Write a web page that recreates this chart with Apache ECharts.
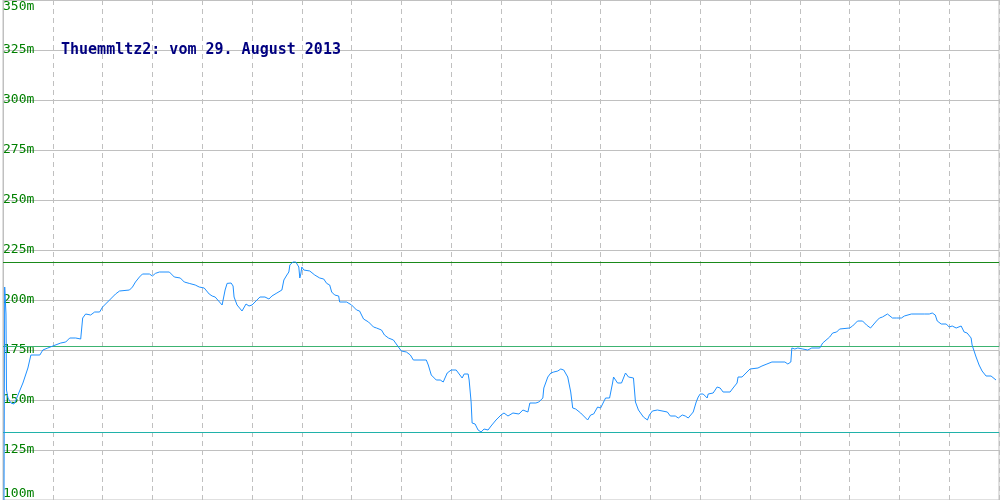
<!DOCTYPE html>
<html>
<head>
<meta charset="utf-8">
<style>
html,body{margin:0;padding:0;background:#fff;}
#chart{width:1000px;height:500px;}
</style>
<script src="https://cdn.jsdelivr.net/npm/echarts@6/dist/echarts.min.js"></script>
</head>
<body>
<div id="chart"></div>
<script>
const titleText = 'Thuemmltz2: vom 29. August 2013';
// distance along the track (arbitrary units, 0..1000)
const dist = [1,1.7,3,3.5,5,8,11,13,15,20,25,28,37,40,45,50,58,63,67,73,78,80,83,88,92,97,100,113,117,127,130,133,137,140,147,150,153,157,167,172,178,182,187,193,197,202,207,210,213,220,222,223,225,229,231,232,235,240,241,244,247,250,258,263,267,270,275,280,282,285,287,288,291,294,297,298,299,300,302,308,313,318,322,325,328,330,333,337,338,345,347,350,355,358,362,367,372,375,380,383,387,392,397,400,405,407,409,412,425,427,430,435,437,439,442,446,450,452,455,458,461,463,465,467,468,470,471,474,477,480,483,487,490,495,500,503,505,507,509,512,518,522,527,529,535,538,542,543,547,550,553,557,560,563,565,567,570,572,575,580,587,590,593,597,600,602,605,609,612,613,615,617,621,623,625,627,628,630,633,635,638,643,647,649,652,654,657,667,670,675,678,682,685,688,693,696,698,700,703,707,708,713,717,720,723,730,733,737,738,742,743,747,750,758,762,767,772,785,788,791,792,795,798,803,805,808,812,820,823,830,833,837,840,850,853,858,863,867,871,873,877,880,883,885,888,893,897,899,902,905,912,925,927,930,933,936,938,942,947,950,953,957,959,962,965,968,972,973,977,980,983,987,992,997];
// elevation in metres
const elev = [100,206.5,193,155,151,148.5,148,150,152.5,158.5,166,172.5,172.5,175,176,177,178.5,179,181,181,180.5,191,193,192.5,194,194,196.5,203,204.5,205,206.5,209,211.5,213,213,212,213.3,214,214,211.5,211,209,208.3,207.5,206.5,206,203,202,201.5,197.5,196.5,205,208.3,208.5,207,201.5,197.5,194.5,195,198,197,197.5,201.5,201.5,200.5,202,203.5,205,210,212.5,214,217.5,219,219,216.5,211,213,216.5,215,214.5,212.5,211,210.5,208.3,207.5,204,202.5,202,199,199,198.5,197.5,195,194.5,190.5,189,186.5,186,185,182.5,181,180,176.5,174.5,174,173.8,172.5,170,170,167.5,162.5,160,159,160,159,163.5,165,166,165,163,161,163,162.5,163,160,149,138.5,138,135,134,135.5,135,137,140,142.5,143.5,142.5,142,143,143.5,143,145,144,148.5,148.5,149,151,156,161.5,163.5,164,164.5,165.5,165,164,161.5,154,146,145.5,143.5,140,142.5,143,146.5,146,146,151,151,158.5,161.5,162,158.5,158.5,161,163.5,164,161.5,162,161,149,145,141.5,140,142.5,144.5,144,145,144,142,142,141,142.5,142,141,144,149,151.5,153,153,151,153,153.5,156.5,156,154,154,156,158.5,161.5,161.5,161,164,165.5,166,167,168,169,169,168,169,176,175.5,176,175.5,174.5,175,176,176,178.5,181.5,183.5,184,185.5,186,187,189.5,189.5,187.5,186,186.5,189.5,191,191.5,192,193,191,191,192,191,192,193,193,194,193,193.5,192.5,189.5,188,188,186.5,187,186,187,187,184,183.5,181,177.5,171.5,167.5,164.5,162,162,160];
// reference levels (m)
const refLevels = [218.75, 176.75, 133.75];
const refColors = ['#1a8a1a', '#3cb371', '#20b2aa'];
const yMin = 100, yMax = 350, yStep = 25;
const xMin = 0, xMax = 1000, xStep = 50;

const chart = echarts.init(document.getElementById('chart'), null, {renderer: 'canvas'});
const lineData = dist.map((d, i) => [d, elev[i]]);
const refSeries = refLevels.map((v, i) => ({
  type: 'line',
  data: [[xMin, v], [xMax, v]],
  showSymbol: false,
  silent: true,
  lineStyle: {color: refColors[i], width: 1},
  itemStyle: {color: refColors[i]},
  z: 2
}));
chart.setOption({
  animation: false,
  backgroundColor: '#ffffff',
  title: {
    text: titleText,
    left: 56, top: 38,
    textStyle: {color: '#000080', fontFamily: 'DejaVu Sans Mono', fontSize: 15, fontWeight: 'bold'}
  },
  grid: {left: 0, right: 1, top: 0, bottom: 0, show: true, borderColor: '#c0c0c0', borderWidth: 1},
  xAxis: {
    type: 'value', min: xMin, max: xMax, interval: xStep,
    axisLine: {show: false}, axisTick: {show: false}, axisLabel: {show: false},
    splitLine: {show: true, lineStyle: {color: '#c0c0c0', type: [5, 4], width: 1}}
  },
  yAxis: {
    type: 'value', min: yMin, max: yMax, interval: yStep,
    axisLine: {show: true, lineStyle: {color: '#c0c0c0'}},
    axisTick: {show: false},
    axisLabel: {
      inside: true, margin: 0, formatter: '{value}m',
      color: '#008000', fontFamily: 'DejaVu Sans Mono', fontSize: 13,
      verticalAlign: 'middle',
      verticalAlignMinLabel: 'bottom', verticalAlignMaxLabel: 'top',
      showMinLabel: true, showMaxLabel: true
    },
    splitLine: {show: true, lineStyle: {color: '#c0c0c0', width: 1}}
  },
  series: refSeries.concat([{
    type: 'line',
    data: lineData,
    showSymbol: false,
    silent: true,
    lineStyle: {color: '#1e90ff', width: 1},
    z: 3
  }])
});
</script>
</body>
</html>
